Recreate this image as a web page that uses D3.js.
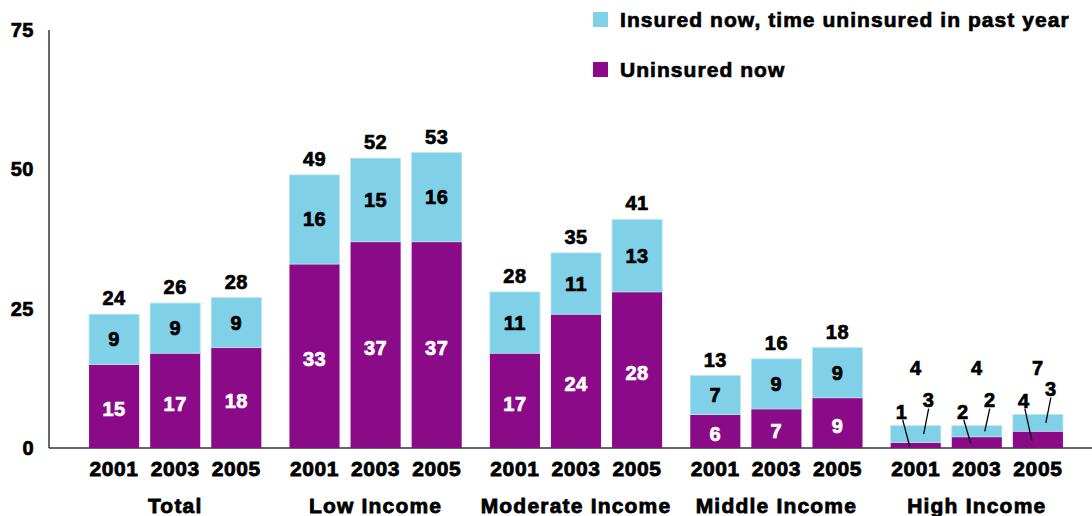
<!DOCTYPE html>
<html><head><meta charset="utf-8">
<script src="https://cdn.jsdelivr.net/npm/d3@7"></script>
<style>
html,body{margin:0;padding:0;background:#fff;}
svg text{font-family:"Liberation Sans",Arial,sans-serif;font-weight:bold;}
</style></head>
<body>
<svg id="chart" width="1092" height="516"></svg>
<script>
const groups = ["Total","Low Income","Moderate Income","Middle Income","High Income"];
const years = ["2001","2003","2005"];
const uninsured = [15,17,18, 33,37,37, 17,24,28, 6,7,9, 1,2,3];
const insuredGap = [9,9,9, 16,15,16, 11,11,13, 7,9,9, 3,2,3];
const uninsuredLabels = [15,17,18, 33,37,37, 17,24,28, 6,7,9, 1,2,4];
const insuredGapLabels = [9,9,9, 16,15,16, 11,11,13, 7,9,9, 3,2,3];
const totalLabels = [24,26,28, 49,52,53, 28,35,41, 13,16,18, 4,4,7];
const yTicks = [0,25,50,75];
const seriesNames = ["Insured now, time uninsured in past year","Uninsured now"];

const colBlue = "#80d0e8", colPurple = "#8a0a88";
const svg = d3.select("#chart");
const y = d3.scaleLinear().domain([0,75]).range([448,30]);
const xg = d3.scaleBand().domain(groups).range([75,1077]).paddingInner(0).paddingOuter(0);
const xb = d3.scaleBand().domain(years).range([0,xg.bandwidth()]).paddingInner(0.18).paddingOuter(0.23);

const rows = [];
groups.forEach((g,gi)=>years.forEach((yr,yi)=>{
  const i = gi*3+yi;
  rows.push({g, yr, gi, i, u:uninsured[i], b:insuredGap[i], ul:uninsuredLabels[i], bl:insuredGapLabels[i], t:totalLabels[i],
    x: xg(g)+xb(yr), w: xb.bandwidth()});
}));

// axes
svg.append("line").attr("x1",49).attr("x2",1092).attr("y1",y(0)).attr("y2",y(0)).attr("stroke","#333").attr("stroke-width",1.5);
svg.append("line").attr("x1",49).attr("x2",49).attr("y1",y(0)).attr("y2",y(75)).attr("stroke","#333").attr("stroke-width",1.5);
svg.selectAll(".yt").data(yTicks).enter().append("text")
  .attr("x",34).attr("y",d=>y(d)+7).attr("text-anchor","end").attr("font-size",20)
  .attr("stroke","#000").attr("stroke-width",0.7).attr("letter-spacing",0.5).text(d=>d);

// bars
const bar = svg.selectAll(".bar").data(rows).enter().append("g");
bar.append("rect").attr("x",d=>d.x).attr("width",d=>d.w)
  .attr("y",d=>y(d.u)).attr("height",d=>y(0)-y(d.u)).attr("fill",colPurple);
bar.append("rect").attr("x",d=>d.x).attr("width",d=>d.w)
  .attr("y",d=>y(d.u+d.b)).attr("height",d=>y(d.u)-y(d.u+d.b)).attr("fill",colBlue)
  .attr("stroke","#b8e6f3").attr("stroke-width",0.8);

const lab = (sel)=>sel.attr("font-size",20).attr("text-anchor","middle").attr("stroke-width",0.7).attr("letter-spacing",0.5);
const normal = rows.filter(d=>d.gi<4);
const high = rows.filter(d=>d.gi===4);

svg.selectAll(".ul").data(normal).enter().append("text").call(lab)
  .attr("x",d=>d.x+d.w/2).attr("y",d=>(y(d.u)+y(0))/2+7+3).attr("fill","#fff").attr("stroke","#fff").text(d=>d.ul);
svg.selectAll(".bl").data(normal).enter().append("text").call(lab)
  .attr("x",d=>d.x+d.w/2).attr("y",d=>(y(d.u)+y(d.u+d.b))/2+7).attr("fill","#000").attr("stroke","#000").text(d=>d.bl);
svg.selectAll(".tl").data(rows).enter().append("text").call(lab)
  .attr("x",d=>d.x+d.w/2).attr("y",d=>Math.min(y(d.u+d.b)-9, y(13.1))).attr("fill","#000").attr("stroke","#000").text(d=>d.t);

// high income callouts
high.forEach(d=>{
  const top = y(d.u+d.b);
  const pcx = d.x+11, pcy = top-14;
  const bcx = d.x+38, bcy = pcy-12;
  svg.append("text").call(lab).attr("x",pcx).attr("y",pcy+7).attr("fill","#000").attr("stroke","#000").text(d.ul);
  svg.append("text").call(lab).attr("x",bcx).attr("y",bcy+7).attr("fill","#000").attr("stroke","#000").text(d.bl);
  svg.append("line").attr("x1",pcx+1).attr("y1",pcy+8).attr("x2",d.x+19).attr("y2",(y(d.u)+y(0))/2+1)
    .attr("stroke","#000").attr("stroke-width",1.3);
  svg.append("line").attr("x1",bcx).attr("y1",bcy+9).attr("x2",d.x+33).attr("y2",(y(d.u)+top)/2)
    .attr("stroke","#000").attr("stroke-width",1.3);
});

// x labels
svg.selectAll(".yr").data(rows).enter().append("text")
  .attr("x",d=>d.x+d.w/2).attr("y",476).attr("text-anchor","middle").attr("font-size",21)
  .attr("stroke","#000").attr("stroke-width",0.8).attr("letter-spacing",0.6).text(d=>d.yr);
svg.selectAll(".gn").data(groups).enter().append("text")
  .attr("x",g=>xg(g)+xg.bandwidth()/2).attr("y",513).attr("text-anchor","middle").attr("font-size",21)
  .attr("stroke","#000").attr("stroke-width",0.8).attr("letter-spacing",1.2).text(g=>g);

// legend
const leg = svg.selectAll(".leg").data(seriesNames).enter().append("g")
  .attr("transform",(d,i)=>`translate(593,${12+i*50})`);
leg.append("rect").attr("width",15).attr("height",15).attr("fill",(d,i)=>i===0?colBlue:colPurple);
leg.append("text").attr("x",27).attr("y",15).attr("font-size",21)
  .attr("stroke","#000").attr("stroke-width",0.7).attr("letter-spacing",1.05).text(d=>d);
</script>
</body></html>
